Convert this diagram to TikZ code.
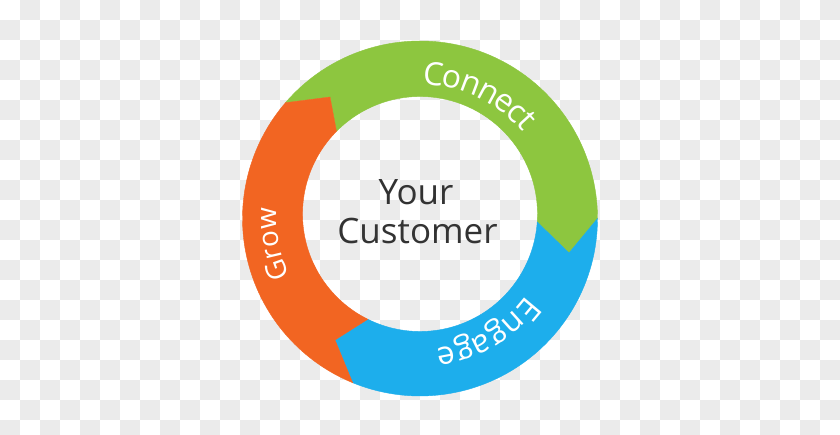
\documentclass[tikz,border=0pt]{standalone}
\usepackage{fontspec}
\setmainfont{Open Sans}
\usetikzlibrary{decorations.text,calc}
\definecolor{cgreen}{RGB}{141,198,63}
\definecolor{cblue}{RGB}{29,174,236}
\definecolor{corange}{RGB}{242,101,34}
\definecolor{checker}{RGB}{235,235,235}
\definecolor{ctext}{RGB}{51,51,51}
\begin{document}
\begin{tikzpicture}[x=1pt,y=1pt,
  centertext/.style={font=\fontsize{35}{35}\selectfont, text=ctext, anchor=base, inner sep=0pt},
  seg/.style={fill=#1, draw=#1, line width=0.4pt, line join=miter}]
\useasboundingbox (0,0) rectangle (840,435);
\fill[white] (0,0) rectangle (840,435);
\foreach \i in {0,...,41}{\foreach \j in {0,...,21}{
  \pgfmathtruncatemacro\chk{mod(\i+\j,2)}
  \ifnum\chk=1 \fill[checker] (20*\i,415-20*\j) rectangle ++(20,20); \fi}}
\coordinate (O) at (420,216.5);
\coordinate (I) at (420,221);
\coordinate (gtip) at (569,182);
\coordinate (ovtx) at (330,338);
\coordinate (bvtx) at (335,95);
% green
\path[seg=cgreen] ($(O)+(139.3:177.5)$) arc[start angle=139.3, end angle=0, radius=177.5] -- (gtip) -- ($(I)+(-3.9:117.5)$) arc[start angle=-3.9, end angle=135.3, radius=117.5] -- (ovtx) -- cycle;
% blue
\path[seg=cblue] ($(O)+(0:177.5)$) arc[start angle=0, end angle=-112.3, radius=177.5] -- (bvtx) -- ($(I)+(-116.4:117.5)$) arc[start angle=-116.4, end angle=-3.9, radius=117.5] -- (gtip) -- cycle;
% orange
\path[seg=corange] ($(O)+(-112.3:177.5)$) arc[start angle=-112.3, end angle=-220.7, radius=177.5] -- (ovtx) -- ($(I)+(135.3:117.5)$) arc[start angle=135.3, end angle=243.6, radius=117.5] -- (bvtx) -- cycle;
% labels
\node[centertext] (your) at (416,230) {Your};
\node[centertext] (customer) at (417.5,191.7) {Customer};
\path[decorate, decoration={text effects along path, text={Connect}, text effects/.cd, text along path, fit text to path, characters={text=white, font=\fontsize{32}{32}\selectfont}}] ($(O)+(89:134)$) arc[start angle=89, end angle=40, radius=134];
\path[decorate, decoration={text effects along path, text={Engage}, text effects/.cd, text along path, fit text to path, characters={text=white, font=\fontsize{32}{32}\selectfont}}] ($(O)+(-36:131)$) arc[start angle=-36, end angle=-83, radius=131];
\path[decorate, decoration={text effects along path, text={Grow}, text effects/.cd, text along path, fit text to path, characters={text=white, font=\fontsize{28}{28}\selectfont}}] ($(O)+(204:143)$) arc[start angle=204, end angle=175.5, radius=143];
\end{tikzpicture}
\end{document}
